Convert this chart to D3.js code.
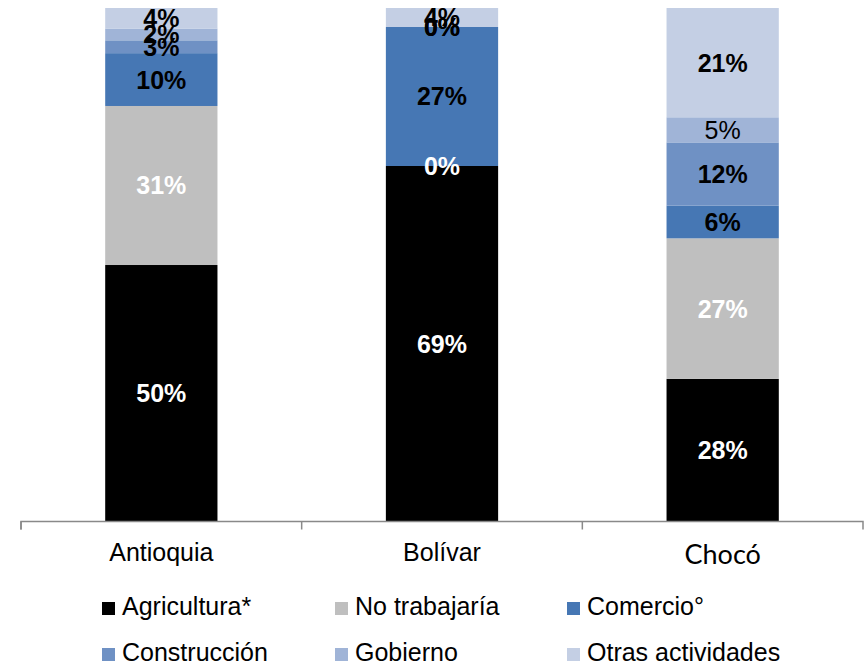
<!DOCTYPE html>
<html>
<head>
<meta charset="utf-8">
<script src="https://cdn.jsdelivr.net/npm/d3@7"></script>
<style>
  html, body { margin: 0; padding: 0; background: #fff; }
  svg { display: block; }
</style>
</head>
<body>
<svg id="chart" width="864" height="665"></svg>
<script>
// ---- data ----
const categories = ["Antioquia", "Bolívar", "Chocó"];
const seriesNames = ["Agricultura*", "No trabajaría", "Comercio°", "Construcción", "Gobierno", "Otras actividades"];
const agricultura = [49.9, 69.2, 27.7];
const noTrabajaria = [31.0, 0, 27.4];
const comercio = [10.3, 27.1, 6.4];
const construccion = [2.5, 0, 12.3];
const gobierno = [2.3, 0, 4.9];
const otras = [4.0, 3.7, 21.3];

// ---- styles ----
const colors = ["#000000", "#bfbfbf", "#4677b4", "#6f91c4", "#a0b4d7", "#c4cfe4"];
const labelColors = ["#ffffff", "#ffffff", "#000000", "#000000", "#000000", "#000000"];

const seriesValues = [agricultura, noTrabajaria, comercio, construccion, gobierno, otras];
const rows = categories.map((c, i) => {
  const r = { cat: c };
  seriesNames.forEach((s, j) => r[s] = seriesValues[j][i]);
  return r;
});

const svg = d3.select("#chart");
const mLeft = 21, mRight = 863, mTop = 8, mBottom = 521;

const x = d3.scaleBand().domain(categories).range([mLeft, mRight]).padding(0);
const y = d3.scaleLinear().domain([0, 1]).range([mBottom, mTop]);
const barW = x.bandwidth() * 0.4;

const stack = d3.stack().keys(seriesNames).offset(d3.stackOffsetExpand);
const stacked = stack(rows);

const g = svg.append("g");
stacked.forEach((layer, si) => {
  g.selectAll(null).data(layer).enter().append("rect")
    .attr("x", d => x(d.data.cat) + (x.bandwidth() - barW) / 2)
    .attr("width", barW)
    .attr("y", d => y(d[1]))
    .attr("height", d => Math.max(0, y(d[0]) - y(d[1])))
    .attr("fill", colors[si]);
});

// labels
stacked.forEach((layer, si) => {
  g.selectAll(null).data(layer).enter().append("text")
    .attr("x", d => x(d.data.cat) + x.bandwidth() / 2)
    .attr("y", d => (y(d[0]) + y(d[1])) / 2)
    .attr("dy", "0.36em")
    .attr("text-anchor", "middle")
    .attr("font-family", "'Liberation Sans', Arial, sans-serif")
    .attr("font-size", 25)
    .attr("font-weight", d => (d.data.cat === "Chocó" && si === 4) ? "normal" : "bold")
    .attr("fill", labelColors[si])
    .text(d => Math.round(d.data[seriesNames[si]]) + "%");
});

// axis
const axis = d3.axisBottom(x).tickSize(8).tickFormat("");
const ax = svg.append("g").attr("transform", `translate(0,${mBottom + 0.5})`).call(axis);
ax.select(".domain").attr("stroke", "#898989").attr("stroke-width", 1.5)
  .attr("d", `M${mLeft},8V0H${mRight}V8`);
ax.selectAll(".tick").remove();
categories.forEach((c) => {
  const tx = x(c);
  ax.append("line").attr("x1", tx).attr("x2", tx).attr("y1", 0).attr("y2", 8)
    .attr("stroke", "#898989").attr("stroke-width", 1.5);
});

// category labels
svg.selectAll(".cat").data(categories).enter().append("text")
  .attr("x", d => x(d) + x.bandwidth() / 2)
  .attr("y", (d, i) => i === 2 ? 564 : 561)
  .attr("text-anchor", "middle")
  .attr("font-family", (d, i) => i === 2 ? "Lato, 'Open Sans', sans-serif" : "'Liberation Sans', Arial, sans-serif")
  .attr("font-size", (d, i) => i === 2 ? 27 : 25)
  .attr("fill", "#000")
  .text(d => d);

// legend
const legX = [102, 335, 567];
const legY = [602, 648];
const leg = svg.append("g");
seriesNames.forEach((s, i) => {
  const cx = legX[i % 3], cy = legY[Math.floor(i / 3)];
  leg.append("rect").attr("x", cx).attr("y", cy).attr("width", 13).attr("height", 13).attr("fill", colors[i]);
  leg.append("text").attr("x", cx + 20).attr("y", cy + 13)
    .attr("font-family", "'Liberation Sans', Arial, sans-serif")
    .attr("font-size", 25).attr("fill", "#000").text(s);
});
</script>
</body>
</html>
